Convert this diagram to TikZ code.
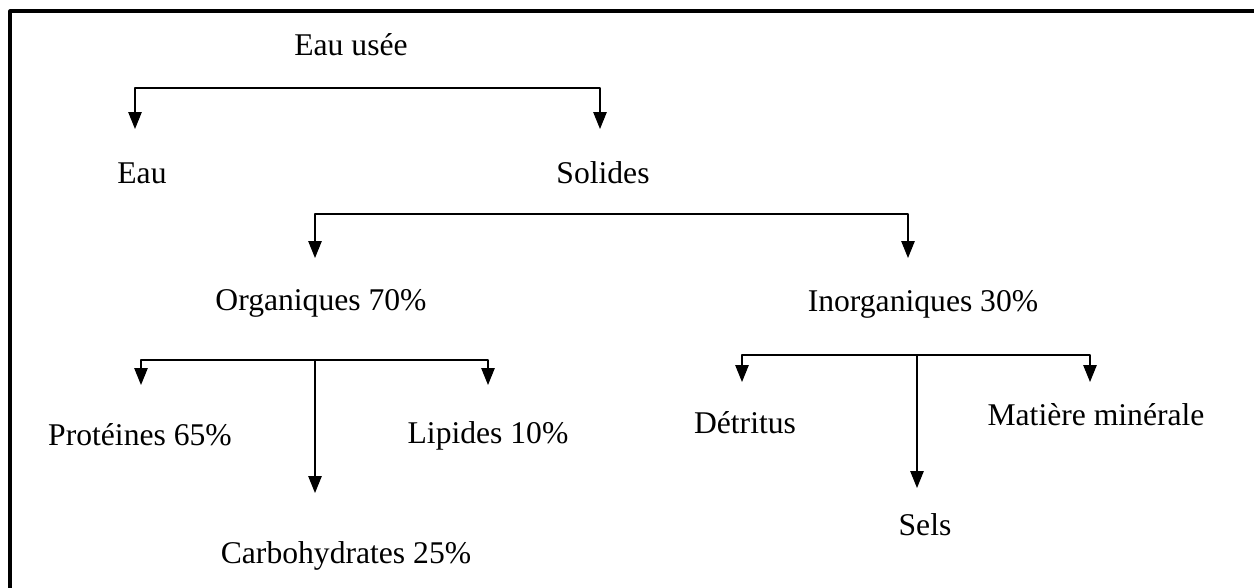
\documentclass[tikz,border=0pt]{standalone}
\usepackage{fontspec}
\setmainfont{Liberation Serif}
\usetikzlibrary{arrows.meta}
\tikzset{
  lbl/.style={anchor=base,inner sep=0pt,font=\fontsize{18}{21}\selectfont},
  fleche/.style={line width=0.65pt,-{Triangle[length=0.34cm,width=0.27cm]}},
  cadre/.style={line width=1.8pt}
}
\begin{document}
\begin{tikzpicture}[line cap=round,line join=round,x=0.02cm,y=-0.02cm]
		\useasboundingbox (0,0) rectangle (1254,588);
		\draw[cadre] (10,588) -- (10,11) -- (1254,11);
		% textes
		\node[lbl] (eauusee) at (351,56) {Eau usée};
		\node[lbl] (eau) at (142,183) {Eau};
		\node[lbl] (solides) at (603,183) {Solides};
		\node[lbl] (org) at (321,310) {Organiques 70\%};
		\node[lbl] (inorg) at (923,311) {Inorganiques 30\%};
		\node[lbl] (prot) at (140,445) {Protéines 65\%};
		\node[lbl] (lip) at (488,443) {Lipides 10\%};
		\node[lbl] (carb) at (346,563) {Carbohydrates 25\%};
		\node[lbl] (detr) at (745,433) {Détritus};
		\node[lbl] (mat) at (1096,425) {Matière minérale};
		\node[lbl] (sels) at (925,535) {Sels};
		% embranchements
		\coordinate (b1) at (370,88);
		\coordinate (t-eau) at (135,129);
		\coordinate (t-sol) at (600,129);
		\coordinate (b2) at (610,214);
		\coordinate (t-org) at (315,258);
		\coordinate (t-inorg) at (908,258);
		\coordinate (b3) at (315,360);
		\coordinate (t-prot) at (141,385);
		\coordinate (t-lip) at (488,385);
		\coordinate (t-carb) at (315,493);
		\coordinate (b4) at (917,355);
		\coordinate (t-detr) at (742,382);
		\coordinate (t-mat) at (1090,382);
		\coordinate (t-sels) at (917,488);
		\draw[fleche] (b1) -| (t-eau);
		\draw[fleche] (b1) -| (t-sol);
		\draw[fleche] (b2) -| (t-org);
		\draw[fleche] (b2) -| (t-inorg);
		\draw[fleche] (b3) -| (t-prot);
		\draw[fleche] (b3) -| (t-lip);
		\draw[fleche] (b3) -- (t-carb);
		\draw[fleche] (b4) -| (t-detr);
		\draw[fleche] (b4) -| (t-mat);
		\draw[fleche] (b4) -- (t-sels);
		\end{tikzpicture}
\end{document}
